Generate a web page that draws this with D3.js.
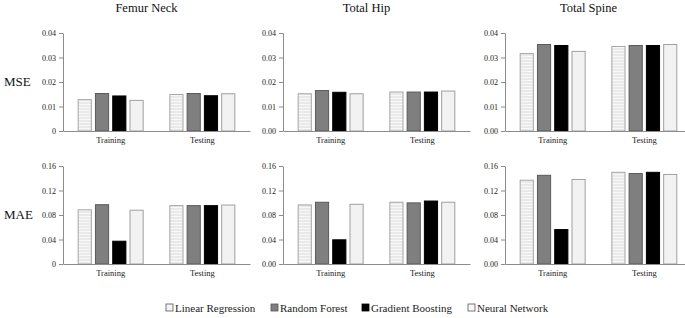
<!DOCTYPE html>
<html>
<head>
<meta charset="utf-8">
<script src="https://cdn.jsdelivr.net/npm/d3@7"></script>
<style>
  body { margin: 0; background: #fff; }
  svg text { font-family: "Liberation Serif", "Times New Roman", Times, serif !important; }
</style>
</head>
<body>
<svg id="chart" width="685" height="318"></svg>
<script>
const sites = ["Femur Neck", "Total Hip", "Total Spine"]
const metrics = ["MSE", "MAE"]
const phases = ["Training", "Testing"]
const models = ["Linear Regression", "Random Forest", "Gradient Boosting", "Neural Network"]

// [training, testing] per model order above
const mseFemurNeck = [[0.0128, 0.0153, 0.0143, 0.0125], [0.0149, 0.0153, 0.0144, 0.0152]]
const mseTotalHip = [[0.0152, 0.0165, 0.0158, 0.0152], [0.0159, 0.0159, 0.0159, 0.0163]]
const mseTotalSpine = [[0.0316, 0.0353, 0.0349, 0.0325], [0.0345, 0.0349, 0.0349, 0.0353]]
const maeFemurNeck = [[0.0885, 0.0968, 0.0372, 0.0878], [0.0953, 0.0953, 0.0953, 0.0963]]
const maeTotalHip = [[0.0965, 0.1008, 0.0395, 0.0975], [0.1008, 0.0998, 0.1028, 0.1008]]
const maeTotalSpine = [[0.1368, 0.1448, 0.0562, 0.1380], [0.1497, 0.1477, 0.1497, 0.1462]]

const mseTicks = [0, 0.01, 0.02, 0.03, 0.04]
const maeTicks = [0, 0.04, 0.08, 0.12, 0.16]

const values = {
  MSE: [mseFemurNeck, mseTotalHip, mseTotalSpine],
  MAE: [maeFemurNeck, maeTotalHip, maeTotalSpine]
}
const ticks = { MSE: mseTicks, MAE: maeTicks }

const svg = d3.select("#chart")

// stripe pattern for linear regression bars
const defs = svg.append("defs")
const pat = defs.append("pattern")
  .attr("id", "stripes")
  .attr("patternUnits", "userSpaceOnUse")
  .attr("width", 4).attr("height", 3)
pat.append("rect").attr("width", 4).attr("height", 3).attr("fill", "#e9e9e9")
pat.append("rect").attr("y", 2).attr("width", 4).attr("height", 1).attr("fill", "#f8f8f8")

const fills = ["url(#stripes)", "#7f7f7f", "#000000", "#f2f2f2"]
const strokes = ["#a6a6a6", "#5a5a5a", "#000000", "#a0a0a0"]
const legendFills = ["#f4f4f4", "#7f7f7f", "#000000", "#f8f8f8"]

const panelLeft = [63, 283, 505]
const panelWidth = 187
const rowTop = [33, 166]
const rowHeight = 98

const x0 = d3.scaleBand().domain(phases).range([0, panelWidth]).paddingInner(0.28).paddingOuter(0.16)
const x1 = d3.scaleBand().domain(models).range([0, x0.bandwidth()]).paddingInner(0.18)

metrics.forEach((metric, r) => {
  const y = d3.scaleLinear().domain([0, d3.max(ticks[metric])]).range([rowHeight, 0])

  svg.append("text")
    .attr("x", 4)
    .attr("y", rowTop[r] + rowHeight / 2 + 4)
    .attr("font-size", 13)
    .attr("fill", "#111")
    .text(metric)

  sites.forEach((site, c) => {
    const g = svg.append("g").attr("transform", `translate(${panelLeft[c]},${rowTop[r]})`)

    if (r === 0) {
      svg.append("text")
        .attr("x", panelLeft[c] + panelWidth / 2 - 10)
        .attr("y", 12)
        .attr("text-anchor", "middle")
        .attr("font-size", 12.5)
        .attr("fill", "#111")
        .text(site)
    }

    const fmt = d => (d === 0 && c === 0) ? "0" : d3.format(".2f")(d)

    const yAxis = g.append("g")
      .call(d3.axisLeft(y).tickValues(ticks[metric]).tickFormat(fmt).tickSize(4).tickSizeOuter(0).tickPadding(3))
    yAxis.select(".domain").attr("stroke", "#8c8c8c")
    yAxis.selectAll(".tick line").attr("stroke", "#8c8c8c")
    yAxis.selectAll("text")
      .attr("font-size", 8)
      .attr("fill", "#222")

    const groups = g.selectAll(".grp")
      .data(phases)
      .join("g")
      .attr("transform", d => `translate(${x0(d)},0)`)

    groups.selectAll("rect")
      .data((p, i) => values[metric][c][i].map((v, k) => ({ model: models[k], k: k, v: v })))
      .join("rect")
      .attr("x", d => x1(d.model) + 0.5)
      .attr("y", d => y(d.v))
      .attr("width", x1.bandwidth() - 1)
      .attr("height", d => rowHeight - y(d.v))
      .attr("fill", d => fills[d.k])
      .attr("stroke", d => strokes[d.k])
      .attr("stroke-width", 1)

    const xAxis = g.append("g")
      .attr("transform", `translate(0,${rowHeight})`)
      .call(d3.axisBottom(x0).tickSize(0).tickPadding(6))
    xAxis.select(".domain").attr("stroke", "#8c8c8c")
    xAxis.selectAll("text")
      .attr("font-size", 8.5)
      .attr("fill", "#222")
  })
})

// legend
const legendX = [166, 271, 362, 468]
const legend = svg.append("g").attr("transform", "translate(0,308)")
const items = legend.selectAll("g")
  .data(models)
  .join("g")
  .attr("transform", (d, i) => `translate(${legendX[i]},0)`)
items.append("rect")
  .attr("x", 0).attr("y", -4)
  .attr("width", 7).attr("height", 7)
  .attr("fill", (d, i) => legendFills[i])
  .attr("stroke", (d, i) => i === 2 ? "#000" : "#555")
  .attr("stroke-width", 0.8)
items.append("text")
  .attr("x", 9)
  .attr("y", 3.5)
  .attr("font-size", 11)
  .attr("fill", "#222")
  .text(d => d)
</script>
</body>
</html>
